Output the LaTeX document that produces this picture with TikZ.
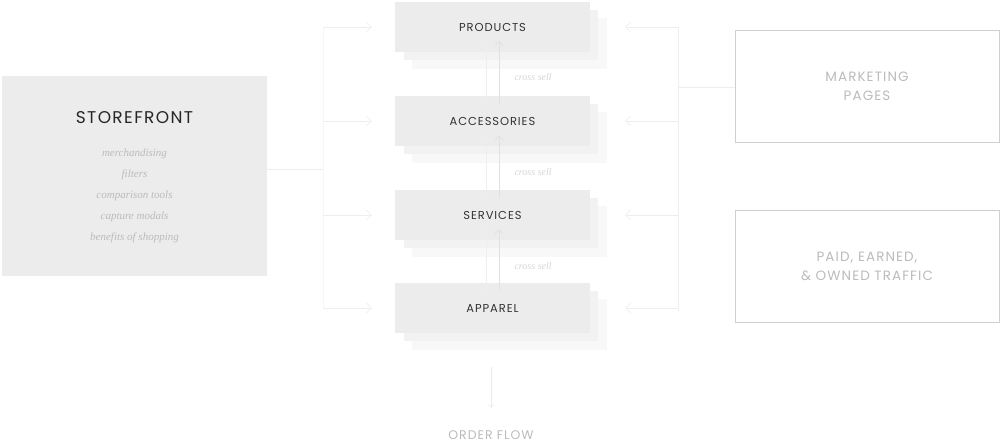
\documentclass[tikz,border=0pt]{standalone}
\usepackage{fontspec}
\setmainfont{Liberation Serif}
\newfontfamily\sansf{Poppins}[LetterSpace=8]
\usetikzlibrary{arrows.meta}
\definecolor{boxg}{HTML}{ECECEC}
\definecolor{sh1}{HTML}{F2F2F2}
\definecolor{sh2}{HTML}{F8F8F8}
\definecolor{ln}{HTML}{EEEEEE}
\definecolor{tx}{HTML}{333333}
\definecolor{lt}{HTML}{BBBBBB}
\begin{document}
\begin{tikzpicture}[x=1pt,y=-1pt,
  cat/.style={fill=boxg,minimum width=195pt,minimum height=50pt,inner sep=0,font=\sansf\fontsize{11.5}{13}\selectfont,text=tx},
  conn/.style={draw=ln,line width=0.6pt,-{Straight Barb[length=5pt,width=10pt]}},
  plain/.style={draw=ln,line width=0.6pt},
  side/.style={draw=lt!70,line width=0.8pt,minimum width=264pt,minimum height=112pt,align=center,text=lt,font=\sansf\fontsize{13.5}{19}\selectfont},
  xs/.style={text=lt!60,font=\itshape\fontsize{10}{12}\selectfont,anchor=west}]
\useasboundingbox (0,0) rectangle (1001,443);
\foreach \n/\y/\t in {p/27/PRODUCTS,a/121/ACCESSORIES,s/215/SERVICES,r/308/APPAREL}{
  \fill[sh2] (412,\y-9) rectangle (607,\y+42);
  \fill[sh1] (404,\y-17) rectangle (598,\y+33);
  \node[cat] (\n) at (492.5,\y) {\t};
}
\node[fill=boxg,minimum width=265pt,minimum height=200pt,inner sep=0] (sf) at (134.5,176) {};
\node[font=\sansf\fontsize{17}{20}\selectfont,text=black!85] (sft) at (134.5,118) {STOREFRONT};
\node[align=center,text=lt,font=\itshape\fontsize{11}{21}\selectfont] (sfl) at (134.5,196) {merchandising\\filters\\comparison tools\\capture modals\\benefits of\ shopping};
\node[side] (mk) at (867,86) {MARKETING\\PAGES};
\node[side] (pd) at (867,266) {PAID, EARNED,\\\& OWNED TRAFFIC};
\coordinate (lj) at (323,169);
\coordinate (rj) at (678,87);
\draw[plain] (sf.east|-lj) -- (lj);
\draw[draw=ln!50,line width=0.5pt] (323,27) -- (323,308);
\foreach \n in {p,a,s,r}{
  \coordinate (l\n) at (323,0|-\n.west);
  \draw[conn] (l\n) -- ([xshift=-23pt]\n.west);
  \coordinate (r\n) at (678,0|-\n.east);
  \draw[conn] (r\n) -- ([xshift=35pt]\n.east);
}
\draw[plain] (678,27) -- (678,311);
\draw[plain] (rj) -- (mk.west|-rj);
\foreach \u/\d/\yy in {p/a/77,a/s/172,s/r/266}{
  \draw[draw=ln,line width=0.6pt,-{Straight Barb[length=3pt,width=5pt]}] ([yshift=11pt]\u.south-|486,0) -- ([yshift=-8pt]\d.north-|486,0);
  \draw[draw=ln!70!gray!60,line width=0.6pt,-{Straight Barb[length=4pt,width=8pt]}] ([yshift=-8pt]\d.north-|499,0) -- ([yshift=11pt]\u.south-|499,0);
  \node[xs] (cs\u) at (511,\yy) {cross sell};
}
\node[text=lt,font=\sansf\fontsize{12.5}{14}\selectfont] (of) at (491,435) {ORDER FLOW};
\draw[draw=ln!80!gray!50,line width=0.6pt,-{Straight Barb[length=3pt,width=5pt]}] (491,367) -- (491,408);
\end{tikzpicture}
\end{document}
